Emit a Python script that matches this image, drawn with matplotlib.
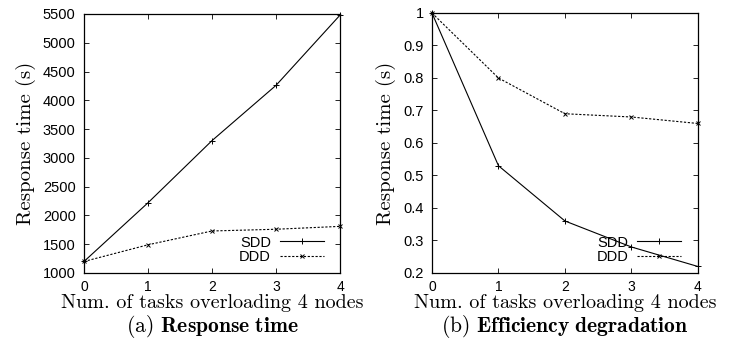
import matplotlib
matplotlib.use('Agg')
import matplotlib.pyplot as plt

plt.rcParams['mathtext.fontset'] = 'cm'
plt.rcParams['font.family'] = ['Liberation Sans', 'DejaVu Sans']

# tasks overloading 4 nodes
tasks = [0, 1, 2, 3, 4]

# response time (s)
resp_sdd = [1200, 2220, 3300, 4260, 5480]
resp_ddd = [1200, 1490, 1730, 1760, 1810]

# efficiency
eff_sdd = [1.0, 0.53, 0.36, 0.28, 0.22]
eff_ddd = [1.0, 0.80, 0.69, 0.68, 0.66]

xlab = 'Num. of tasks overloading 4 nodes'
ylab = 'Response time (s)'

fig = plt.figure(figsize=(7.44, 3.43), dpi=100)
ax1 = fig.add_axes([0.1129, 0.2041, 0.3441, 0.7551])
ax2 = fig.add_axes([0.5806, 0.2041, 0.3575, 0.758])


def style(ax, ylim, yticks):
    ax.set_xlim(0, 4)
    ax.set_xticks(tasks)
    ax.set_ylim(*ylim)
    ax.set_yticks(yticks)
    ax.tick_params(direction='in', top=True, right=True, length=3.5, width=0.6,
                   labelsize=10.5)
    ax.tick_params(axis='x', pad=5, labelsize=10)
    ax.tick_params(axis='y', pad=6)
    for s in ax.spines.values():
        s.set_linewidth(0.9)
    ax.set_xlabel(xlab, family='cmr10', fontsize=14.5, labelpad=0)
    ax.set_ylabel(ylab, family='cmr10', fontsize=15, labelpad=5)


for ax, sdd, ddd in [(ax1, resp_sdd, resp_ddd), (ax2, eff_sdd, eff_ddd)]:
    ax.plot(tasks, sdd, color='black', lw=0.8, marker='+', ms=4, mew=0.7,
            label='SDD', clip_on=False)
    ax.plot(tasks, ddd, color='black', lw=0.8, ls=(0, (2, 1.5)), marker='x',
            ms=3, mew=0.7, label='DDD', clip_on=False)
    ax.legend(loc='lower right', frameon=False, markerfirst=False, fontsize=10.5,
              handlelength=3.0, handletextpad=0.6, labelspacing=0.05,
              borderaxespad=0.2, bbox_to_anchor=(0.97, 0.0))

style(ax1, (1000, 5500), list(range(1000, 5501, 500)))
style(ax2, (0.2, 1.0), [0.2, 0.3, 0.4, 0.5, 0.6, 0.7, 0.8, 0.9, 1.0])
ax2.set_yticklabels(['0.2', '0.3', '0.4', '0.5', '0.6', '0.7', '0.8', '0.9', '1'])

fig.text(0.2849, 0.008, r'(a) $\mathbf{Response\ time}$', family='cmr10',
         fontsize=15.5, ha='center', va='bottom')
fig.text(0.7594, 0.008, r'(b) $\mathbf{Efficiency\ degradation}$', family='cmr10',
         fontsize=15.5, ha='center', va='bottom')

fig.savefig('out.png', dpi=100)
